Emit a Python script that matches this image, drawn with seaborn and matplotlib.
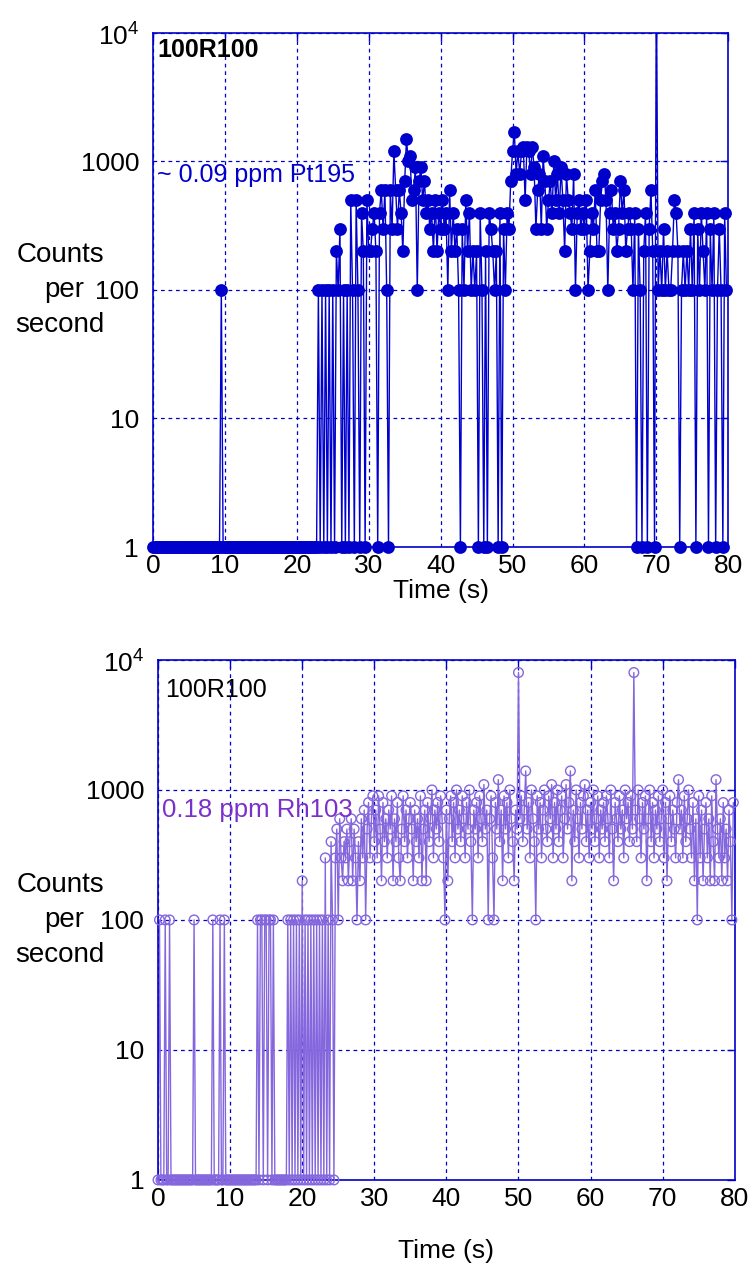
import numpy as np
import pandas as pd
import matplotlib
matplotlib.use('Agg')
import matplotlib.pyplot as plt
from matplotlib.ticker import FixedLocator, NullLocator
import seaborn as sns

# sampling interval of each trace (s)
pt_dt = 0.25
rh_dt = 0.2

# Pt195 trace, raw counts per read (1 count = 100 cps)
pt_counts = [0] * 38 + [1] + [0] * 53 + [
    1, 0, 1, 0, 1, 0, 1, 0, 1, 0, 2, 1, 3, 0, 1, 0, 1, 0, 5, 1,
    0, 5, 1, 0, 4, 2, 0, 5, 2, 2, 3, 4, 2, 0, 4, 6, 3, 6, 1, 0,
    6, 3, 12, 6, 3, 6, 4, 2, 7, 15, 10, 11, 5, 6, 9, 1, 7, 9, 5, 7,
    4, 5, 3, 4, 2, 5, 2, 4, 3, 5, 3, 4, 1, 6, 2, 4, 2, 3, 1, 0,
    3, 1, 5, 2, 4, 1, 2, 1, 2, 0, 4, 1, 0, 2, 0, 4, 3, 2, 1, 2,
    0, 4, 0, 3, 1, 4, 3, 7, 12, 17, 8, 12, 8, 12, 13, 5, 13, 12, 8, 13,
    9, 3, 6, 8, 3, 11, 7, 3, 5, 7, 4, 10, 5, 8, 4, 9, 5, 2, 8, 5,
    4, 3, 8, 1, 4, 5, 3, 4, 3, 5, 1, 2, 4, 3, 6, 2, 2, 5, 7, 8,
    5, 1, 4, 6, 3, 4, 2, 3, 7, 4, 6, 2, 3, 4, 3, 1, 4, 0, 3, 1,
    0, 2, 4, 0, 3, 6, 2, 0, 300, 1, 2, 1, 3, 1, 2, 1, 1, 2, 5, 4,
    2, 0, 1, 2, 1, 2, 1, 3, 1, 4, 0, 3, 1, 4, 2, 1, 4, 0, 3, 1,
    4, 0, 1, 3, 1, 0, 4, 1,
]

# Rh103 trace, raw counts per read (1 count = 100 cps)
rh_counts = [
    0, 1, 0, 0, 0, 1, 0, 0, 1, 0, 0, 0, 0, 0, 0, 0, 0, 0, 0, 0,
    0, 0, 0, 0, 0, 1, 0, 0, 0, 0, 0, 0, 0, 0, 0, 0, 0, 0, 1, 0,
    0, 0, 0, 1, 0, 0, 1, 0, 0, 0, 0, 0, 0, 0, 0, 0, 0, 0, 0, 0,
    0, 0, 0, 0, 0, 0, 0, 0, 0, 1, 0, 1, 1, 0, 1, 1, 0, 1, 1, 0,
    1, 0, 0, 0, 0, 0, 0, 0, 0, 0, 1, 0, 1, 0, 1, 0, 1, 0, 1, 0,
    2, 0, 1, 0, 1, 0, 1, 0, 1, 0, 1, 0, 1, 0, 1, 0, 3, 0, 1, 0,
    4, 1, 0, 3, 5, 1, 6, 3, 2, 4, 3, 5, 2, 4, 6, 2, 5, 3, 1, 4,
    2, 6, 3, 7, 1, 5, 8, 3, 6, 9, 4, 7, 3, 9, 5, 2, 8, 4, 6, 3,
    7, 5, 9, 2, 6, 4, 8, 3, 2, 5, 9, 4, 7, 3, 6, 8, 5, 2, 7, 4,
    6, 3, 9, 2, 5, 7, 2, 8, 4, 6, 10, 3, 7, 5, 8, 4, 9, 6, 3, 1,
    7, 2, 6, 9, 4, 8, 3, 10, 5, 7, 4, 9, 6, 3, 8, 5, 10, 4, 1, 7,
    5, 8, 3, 9, 6, 4, 11, 5, 7, 1, 6, 9, 3, 1, 8, 5, 12, 4, 7, 2,
    9, 5, 8, 3, 10, 6, 4, 2, 7, 5, 80, 6, 9, 4, 7, 14, 5, 8, 3, 10,
    6, 4, 1, 9, 5, 8, 3, 7, 10, 5, 4, 9, 6, 11, 3, 8, 5, 10, 4, 7,
    9, 3, 6, 11, 5, 8, 14, 2, 7, 4, 10, 6, 3, 8, 5, 9, 11, 4, 7, 3,
    8, 5, 10, 4, 6, 9, 3, 7, 5, 8, 4, 9, 6, 3, 10, 5, 2, 8, 6, 4,
    9, 5, 7, 3, 10, 6, 8, 4, 9, 5, 80, 7, 4, 10, 6, 3, 8, 5, 9, 2,
    6, 10, 4, 8, 3, 7, 5, 9, 4, 6, 10, 3, 8, 2, 6, 9, 4, 7, 5, 3,
    8, 12, 5, 7, 3, 9, 4, 6, 10, 5, 3, 8, 2, 6, 1, 9, 3, 7, 2, 5,
    8, 3, 6, 2, 9, 4, 2, 12, 5, 3, 6, 2, 8, 3, 5, 2, 7, 4, 1, 8,
]

x_ticks = [0, 10, 20, 30, 40, 50, 60, 70, 80]
y_ticks = [1, 10, 100, 1000, 10000]
y_tick_labels = ['1', '10', '100', '1000', '10$^4$']
ylabel_lines = ['Counts', 'per', 'second']

pt_color = '#0000cd'
rh_color = '#8466dd'
rh_text_color = '#7a30cc'
frame_color = '#0000cc'


def to_frame(counts, dt):
    cps = np.array(counts, dtype=float) * 100
    cps[cps == 0] = 1  # zero reads sit on the floor of the log axis
    return pd.DataFrame({'time': np.arange(len(counts)) * dt, 'cps': cps})


pt = to_frame(pt_counts, pt_dt)
rh = to_frame(rh_counts, rh_dt)

sns.set_style('white')
plt.rcParams['font.family'] = ['Liberation Sans', 'DejaVu Sans']
plt.rcParams['mathtext.fontset'] = 'custom'
plt.rcParams['mathtext.rm'] = 'Liberation Sans'
plt.rcParams['text.color'] = 'black'
plt.rcParams['axes.labelcolor'] = 'black'

fig = plt.figure(figsize=(7.5, 12.73), dpi=100)
ax1 = fig.add_axes([0.204, 0.5703, 0.767, 0.4038])
ax2 = fig.add_axes([0.2107, 0.0731, 0.769, 0.4085])


def style_axis(ax):
    ax.set_yscale('log')
    ax.set_xlim(0, 80)
    ax.set_ylim(1, 1e4)
    ax.xaxis.set_major_locator(FixedLocator(x_ticks))
    ax.yaxis.set_major_locator(FixedLocator(y_ticks))
    ax.yaxis.set_minor_locator(NullLocator())
    ax.set_yticklabels(y_tick_labels)
    ax.set_axisbelow(True)
    ax.grid(True, color=frame_color, linestyle=(0, (3, 3)), linewidth=0.9)
    ax.tick_params(direction='in', length=6, width=1, color=frame_color,
                   top=True, right=True, labelsize=19, labelcolor='black')
    ax.tick_params(axis='x', pad=5)
    ax.tick_params(axis='y', pad=10)
    for s in ax.spines.values():
        s.set_color(frame_color)
        s.set_linewidth(1.2)
    ax.set_ylabel('')


# top panel: Pt195
ax1.set_yscale('log')
sns.lineplot(data=pt, x='time', y='cps', ax=ax1, color=pt_color, linewidth=1,
             estimator=None, sort=False)
sns.scatterplot(data=pt[pt['cps'] < 1e4], x='time', y='cps', ax=ax1, color=pt_color,
                s=85, edgecolor=pt_color, linewidth=0, clip_on=False, zorder=3)
style_axis(ax1)
ax1.set_xlabel('Time (s)', fontsize=19, labelpad=1)
ax1.text(0.007, 0.967, '100R100', transform=ax1.transAxes, fontsize=18,
         fontweight='bold', va='center', ha='left')
ax1.text(0.007, 0.724, '~ 0.09 ppm Pt195', transform=ax1.transAxes, fontsize=18,
         color=pt_color, va='center', ha='left')

# bottom panel: Rh103
ax2.set_yscale('log')
sns.lineplot(data=rh, x='time', y='cps', ax=ax2, color=rh_color, linewidth=1,
             estimator=None, sort=False)
sns.scatterplot(data=rh, x='time', y='cps', ax=ax2, s=48, facecolor='none',
                edgecolor=rh_color, linewidth=1, clip_on=False, zorder=3)
style_axis(ax2)
ax2.set_xlabel('Time (s)', fontsize=19, labelpad=20)
ax2.text(0.012, 0.942, '100R100', transform=ax2.transAxes, fontsize=18,
         va='center', ha='left')
ax2.text(0.007, 0.712, '0.18 ppm Rh103', transform=ax2.transAxes, fontsize=18.5,
         color=rh_text_color, va='center', ha='left')

# y label drawn line by line, the middle word sits beside the 100 tick
for yc in (290, 920):
    for line, dy, xc in zip(ylabel_lines, (-35, 0, 35), (60, 64, 60)):
        fig.text(xc / 750, 1 - (yc + dy) / 1273, line, ha='center', va='center',
                 fontsize=20)

fig.savefig('out.png', dpi=100)
